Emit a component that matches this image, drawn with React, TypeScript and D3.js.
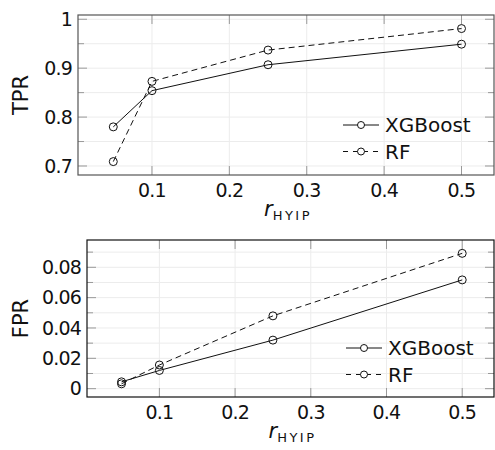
import { useEffect, useRef } from "react";
import * as d3 from "d3";

// r_HYIP values shared by both panels
const ratios = [0.05, 0.1, 0.25, 0.5];
const xTicks = [0.1, 0.2, 0.3, 0.4, 0.5];

const tprXGBoost = [0.78, 0.854, 0.907, 0.949];
const tprRF = [0.709, 0.873, 0.937, 0.981];
const tprTicks = [0.7, 0.8, 0.9, 1];
const tprMinor = [0.75, 0.85, 0.95];

const fprXGBoost = [0.0045, 0.012, 0.032, 0.0717];
const fprRF = [0.0032, 0.0156, 0.048, 0.0892];
const fprTicks = [0, 0.02, 0.04, 0.06, 0.08];
const fprMinor = [0.01, 0.03, 0.05, 0.07, 0.09];

const seriesNames = ["XGBoost", "RF"];

const FONT = "DejaVu Sans, sans-serif";

type Panel = {
  box: { left: number; right: number; top: number; bottom: number };
  yDomain: [number, number];
  yTicks: number[];
  yMinor: number[];
  yFormat: (d: number) => string;
  yLabel: string;
  series: number[][];
  border: string;
  legend: { x: number; y: number };
};

const panels: Panel[] = [
  {
    box: { left: 78, right: 494, top: 15, bottom: 175 },
    yDomain: [0.6816, 1.0087],
    yTicks: tprTicks,
    yMinor: tprMinor,
    yFormat: (d) => (d === 1 ? "1" : String(d)),
    yLabel: "TPR",
    series: [tprXGBoost, tprRF],
    border: "#555",
    legend: { x: 343, y: 125 },
  },
  {
    box: { left: 87, right: 494, top: 240, bottom: 397 },
    yDomain: [-0.0055, 0.098],
    yTicks: fprTicks,
    yMinor: fprMinor,
    yFormat: (d) => (d === 0 ? "0" : String(d)),
    yLabel: "FPR",
    series: [fprXGBoost, fprRF],
    border: "#111",
    legend: { x: 346, y: 348 },
  },
];

export default function App() {
  const svgRef = useRef<SVGSVGElement>(null);

  useEffect(() => {
    const svg = d3.select(svgRef.current);
    svg.selectAll("*").remove();

    panels.forEach((p) => {
      const { left, right, top, bottom } = p.box;
      const x = d3.scaleLinear().domain([0.0044, 0.542]).range([left, right]);
      const y = d3.scaleLinear().domain(p.yDomain).range([bottom, top]);
      const g = svg.append("g");

      // grid
      g.selectAll(".gy")
        .data([...p.yTicks, ...p.yMinor])
        .join("line")
        .attr("x1", left)
        .attr("x2", right)
        .attr("y1", (d) => y(d))
        .attr("y2", (d) => y(d))
        .attr("stroke", "#ececec")
        .attr("stroke-width", 1);
      g.selectAll(".gx")
        .data(xTicks)
        .join("line")
        .attr("x1", (d) => x(d))
        .attr("x2", (d) => x(d))
        .attr("y1", top)
        .attr("y2", bottom)
        .attr("stroke", "#ececec")
        .attr("stroke-width", 1);

      // inner ticks on all four sides
      const tickCol = "#999";
      const yAll = [
        ...p.yTicks.map((v) => ({ v, len: 9 })),
        ...p.yMinor.filter((v) => y(v) > top + 1).map((v) => ({ v, len: 6 })),
      ];
      g.selectAll(".tl")
        .data(yAll)
        .join("line")
        .attr("x1", left)
        .attr("x2", (d) => left + d.len)
        .attr("y1", (d) => y(d.v))
        .attr("y2", (d) => y(d.v))
        .attr("stroke", tickCol);
      g.selectAll(".tr")
        .data(yAll)
        .join("line")
        .attr("x1", right)
        .attr("x2", (d) => right - d.len)
        .attr("y1", (d) => y(d.v))
        .attr("y2", (d) => y(d.v))
        .attr("stroke", tickCol);
      g.selectAll(".tb")
        .data(xTicks)
        .join("line")
        .attr("x1", (d) => x(d))
        .attr("x2", (d) => x(d))
        .attr("y1", bottom)
        .attr("y2", bottom - 9)
        .attr("stroke", tickCol);
      g.selectAll(".tt")
        .data(xTicks)
        .join("line")
        .attr("x1", (d) => x(d))
        .attr("x2", (d) => x(d))
        .attr("y1", top)
        .attr("y2", top + 9)
        .attr("stroke", tickCol);

      // box
      g.append("rect")
        .attr("x", left)
        .attr("y", top)
        .attr("width", right - left)
        .attr("height", bottom - top)
        .attr("fill", "none")
        .attr("stroke", p.border)
        .attr("stroke-width", 1.2);

      // tick labels
      g.selectAll(".yl")
        .data(p.yTicks)
        .join("text")
        .attr("x", left - 6)
        .attr("y", (d) => y(d))
        .attr("dy", "0.36em")
        .attr("text-anchor", "end")
        .attr("font-family", FONT)
        .attr("font-size", 19)
        .attr("letter-spacing", -0.8)
        .attr("fill", "#111")
        .text((d) => p.yFormat(d));
      g.selectAll(".xl")
        .data(xTicks)
        .join("text")
        .attr("x", (d) => x(d))
        .attr("y", bottom + 22)
        .attr("text-anchor", "middle")
        .attr("font-family", FONT)
        .attr("font-size", 19)
        .attr("letter-spacing", -0.8)
        .attr("fill", "#111")
        .text((d) => String(d));

      // axis titles
      g.append("text")
        .attr("transform", `translate(28, ${(top + bottom) / 2}) rotate(-90)`)
        .attr("text-anchor", "middle")
        .attr("font-family", FONT)
        .attr("font-size", 21)
        .attr("fill", "#111")
        .text(p.yLabel);
      const xt = g
        .append("text")
        .attr("x", (left + right) / 2 + 2)
        .attr("y", bottom + 41)
        .attr("text-anchor", "middle")
        .attr("font-family", FONT)
        .attr("fill", "#111");
      xt.append("tspan")
        .attr("font-style", "italic")
        .attr("font-size", 21)
        .text("r");
      xt.append("tspan")
        .attr("font-size", 13)
        .attr("letter-spacing", 2.5)
        .attr("dy", 4)
        .text("HYIP");

      // series
      const line = d3
        .line<number>()
        .x((_, i) => x(ratios[i]))
        .y((d) => y(d));
      p.series.forEach((vals, si) => {
        g.append("path")
          .attr("d", line(vals))
          .attr("fill", "none")
          .attr("stroke", "#111")
          .attr("stroke-width", 1)
          .attr("stroke-dasharray", si === 1 ? "6,4" : null);
        g.selectAll(`.m${si}`)
          .data(vals)
          .join("circle")
          .attr("cx", (_, i) => x(ratios[i]))
          .attr("cy", (d) => y(d))
          .attr("r", 4)
          .attr("fill", "none")
          .attr("stroke", "#111")
          .attr("stroke-width", 1);
      });

      // legend
      seriesNames.forEach((name, si) => {
        const ly = p.legend.y + si * 26.5;
        const lx = p.legend.x;
        g.append("line")
          .attr("x1", lx)
          .attr("x2", lx + 36)
          .attr("y1", ly)
          .attr("y2", ly)
          .attr("stroke", "#111")
          .attr("stroke-dasharray", si === 1 ? "5,5" : null);
        g.append("circle")
          .attr("cx", lx + 18)
          .attr("cy", ly)
          .attr("r", 3.5)
          .attr("fill", "white")
          .attr("stroke", "#111");
        g.append("text")
          .attr("x", lx + 42)
          .attr("y", ly)
          .attr("dy", "0.36em")
          .attr("font-family", FONT)
          .attr("font-size", 20)
          .attr("fill", "#111")
          .text(name);
      });
    });
  }, []);

  return (
    <svg
      ref={svgRef}
      width={495}
      height={450}
      style={{ position: "absolute", left: 0, top: 0, background: "white" }}
    />
  );
}
